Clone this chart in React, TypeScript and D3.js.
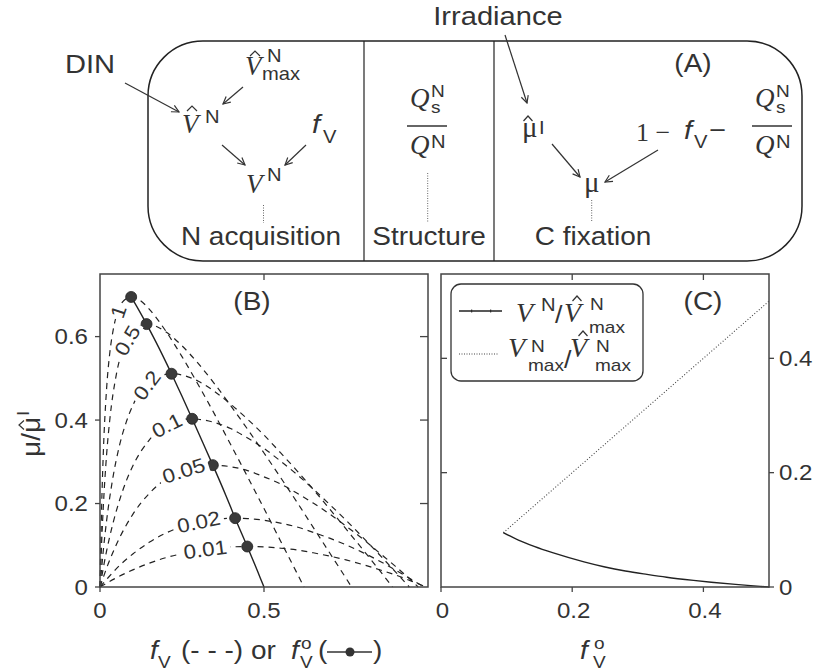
import React from 'react'
import * as d3 from 'd3'

// Panel B: growth rate (mu / mu^I) against f_V, one dashed curve per label
const curveLabels = ['1', '0.5', '0.2', '0.1', '0.05', '0.02', '0.01']

const curve1: [number, number][] = [[0, 0], [0.005, 0.192], [0.01, 0.319], [0.02, 0.474], [0.03, 0.562], [0.04, 0.615], [0.06, 0.671], [0.08, 0.691], [0.095, 0.695], [0.12, 0.688], [0.15, 0.666], [0.2, 0.614], [0.25, 0.552], [0.3, 0.484], [0.35, 0.413], [0.4, 0.339], [0.45, 0.264], [0.5, 0.188], [0.55, 0.111], [0.6, 0.034], [0.622, 0]]
const curve05: [number, number][] = [[0, 0], [0.005, 0.106], [0.01, 0.191], [0.02, 0.316], [0.03, 0.402], [0.05, 0.51], [0.075, 0.58], [0.1, 0.614], [0.142, 0.63], [0.2, 0.612], [0.25, 0.578], [0.3, 0.535], [0.35, 0.486], [0.4, 0.433], [0.45, 0.378], [0.5, 0.321], [0.55, 0.263], [0.6, 0.204], [0.65, 0.143], [0.7, 0.082], [0.75, 0.021], [0.767, 0]]
const curve02: [number, number][] = [[0, 0], [0.01, 0.087], [0.02, 0.158], [0.04, 0.265], [0.06, 0.341], [0.08, 0.395], [0.1, 0.435], [0.15, 0.491], [0.218, 0.511], [0.25, 0.508], [0.3, 0.493], [0.35, 0.468], [0.4, 0.437], [0.45, 0.402], [0.5, 0.364], [0.55, 0.322], [0.6, 0.279], [0.65, 0.234], [0.7, 0.187], [0.75, 0.139], [0.8, 0.091], [0.85, 0.042], [0.892, 0]]
const curve01: [number, number][] = [[0, 0], [0.01, 0.045], [0.02, 0.086], [0.04, 0.154], [0.06, 0.209], [0.08, 0.254], [0.1, 0.29], [0.15, 0.352], [0.2, 0.386], [0.25, 0.401], [0.281, 0.403], [0.3, 0.402], [0.35, 0.394], [0.4, 0.379], [0.45, 0.357], [0.5, 0.332], [0.55, 0.302], [0.6, 0.27], [0.65, 0.235], [0.7, 0.198], [0.75, 0.16], [0.8, 0.12], [0.85, 0.079], [0.9, 0.037], [0.943, 0]]
const curve005: [number, number][] = [[0, 0], [0.01, 0.023], [0.02, 0.045], [0.05, 0.102], [0.1, 0.174], [0.15, 0.224], [0.2, 0.258], [0.25, 0.278], [0.3, 0.289], [0.344, 0.292], [0.4, 0.288], [0.45, 0.279], [0.5, 0.264], [0.55, 0.247], [0.6, 0.225], [0.65, 0.201], [0.7, 0.175], [0.75, 0.146], [0.8, 0.116], [0.85, 0.083], [0.9, 0.05], [0.95, 0.015], [0.97, 0]]
const curve002: [number, number][] = [[0, 0], [0.02, 0.018], [0.05, 0.044], [0.1, 0.079], [0.15, 0.107], [0.2, 0.129], [0.25, 0.145], [0.3, 0.156], [0.35, 0.162], [0.412, 0.165], [0.45, 0.164], [0.5, 0.16], [0.55, 0.153], [0.6, 0.144], [0.65, 0.131], [0.7, 0.117], [0.75, 0.101], [0.8, 0.083], [0.85, 0.063], [0.9, 0.041], [0.95, 0.018], [0.988, 0]]
const curve001: [number, number][] = [[0, 0], [0.05, 0.022], [0.1, 0.041], [0.15, 0.057], [0.2, 0.07], [0.25, 0.08], [0.3, 0.088], [0.35, 0.093], [0.4, 0.096], [0.449, 0.097], [0.5, 0.096], [0.55, 0.093], [0.6, 0.089], [0.65, 0.082], [0.7, 0.074], [0.75, 0.065], [0.8, 0.054], [0.85, 0.042], [0.9, 0.029], [0.95, 0.014], [0.994, 0]]
const curves = [curve1, curve05, curve02, curve01, curve005, curve002, curve001]

// optimum f_V^o, growth at optimum, and V^N / Vmax-hat along it
const optF = [0.095, 0.118, 0.142, 0.17, 0.218, 0.25, 0.281, 0.314, 0.344, 0.385, 0.412, 0.449, 0.472, 0.488, 0.5]
const optMu = [0.695, 0.664, 0.63, 0.588, 0.511, 0.457, 0.403, 0.345, 0.292, 0.217, 0.165, 0.097, 0.054, 0.023, 0]
const optV = [0.095, 0.082, 0.071, 0.06, 0.044, 0.035, 0.028, 0.022, 0.017, 0.0115, 0.0083, 0.0045, 0.0024, 0.001, 0]

// dots at the optimum of each labelled curve
const dotF = [0.095, 0.142, 0.218, 0.281, 0.344, 0.412, 0.449]
const dotMu = [0.695, 0.63, 0.511, 0.403, 0.292, 0.165, 0.097]

// Panel C dotted: Vmax / Vmax-hat = f_V^o
const vmaxF = [0.095, 0.5]
const vmaxV = [0.095, 0.5]

const bXTicks = [0, 0.5]
const bYTicks = [0, 0.2, 0.4, 0.6]
const cXTicks = [0, 0.2, 0.4]
const cYTicks = [0, 0.2, 0.4]

// where each curve label sits (f_V along the curve)
const labelAt = [0.056, 0.083, 0.143, 0.204, 0.255, 0.301, 0.321]

const SANS = '"Liberation Sans", Arial, Helvetica, sans-serif'
const SERIF = '"Liberation Serif", "Times New Roman", serif'
const INK = '#333'
const SX = 1.12

const S = ({ x, y, size = 25, anchor = 'start', italic = false, rot = 0, children }: any) => (
  <text
    transform={`translate(${x},${y})${rot ? ` rotate(${rot})` : ''} scale(${SX},1)`}
    fontFamily={SANS} fontSize={size} fontStyle={italic ? 'italic' : 'normal'}
    textAnchor={anchor} fill={INK}>{children}</text>
)
const M = ({ x, y, size = 27, italic = true, children }: any) => (
  <text x={x} y={y} fontFamily={SERIF} fontSize={size} fontStyle={italic ? 'italic' : 'normal'} fill={INK}>{children}</text>
)
const Hat = ({ cx, y, w = 10, h = 5 }: any) => (
  <path d={`M${cx - w / 2},${y} L${cx},${y - h} L${cx + w / 2},${y}`} fill="none" stroke={INK} strokeWidth={1.2} />
)
const Arrow = ({ x1, y1, x2, y2 }: any) => (
  <line x1={x1} y1={y1} x2={x2} y2={y2} stroke={INK} strokeWidth={1.2} markerEnd="url(#ah)" />
)

const interp = (c: [number, number][], f: number) => {
  for (let i = 0; i < c.length - 1; i++) {
    if (f >= c[i][0] && f <= c[i + 1][0]) {
      const t = (f - c[i][0]) / (c[i + 1][0] - c[i][0])
      return c[i][1] + t * (c[i + 1][1] - c[i][1])
    }
  }
  return 0
}

const xB = d3.scaleLinear().domain([0, 1]).range([100, 428])
const yB = d3.scaleLinear().domain([0, 0.75]).range([587, 274])
const xC = d3.scaleLinear().domain([0, 0.5]).range([441, 769])
const yC = d3.scaleLinear().domain([0, 0.5475]).range([587, 274])

const lineB = d3.line<[number, number]>().x(d => xB(d[0])).y(d => yB(d[1])).curve(d3.curveMonotoneX)
const lineC = d3.line<[number, number]>().x(d => xC(d[0])).y(d => yC(d[1])).curve(d3.curveMonotoneX)

const PanelA = () => (
  <g>
    <rect x={148} y={41} width={654} height={220} rx={55} fill="none" stroke="#222" strokeWidth={1.5} />
    <line x1={364} y1={41} x2={364} y2={261} stroke="#222" strokeWidth={1.2} />
    <line x1={494} y1={41} x2={494} y2={261} stroke="#222" strokeWidth={1.2} />

    {/* N acquisition */}
    <S x={65} y={73} size={26}>DIN</S>
    <Arrow x1={125} y1={83} x2={179} y2={112} />
    <M x={245} y={75}>V</M>
    <Hat cx={255} y={56} />
    <S x={267} y={62} size={18}>N</S>
    <S x={262} y={80} size={18}>max</S>
    <Arrow x1={243} y1={87} x2={223} y2={104} />
    <M x={182} y={133}>V</M>
    <Hat cx={192} y={111} />
    <S x={205} y={123} size={18}>N</S>
    <S x={312} y={133} size={26} italic>f</S>
    <S x={323} y={143} size={18}>V</S>
    <Arrow x1={222} y1={145} x2={245} y2={165} />
    <Arrow x1={306} y1={145} x2={285} y2={165} />
    <M x={246} y={193}>V</M>
    <S x={267} y={181} size={18}>N</S>
    <line x1={263.5} y1={205} x2={263.5} y2={223} stroke="#666" strokeDasharray="1,1.5" />
    <S x={261} y={245} anchor="middle">N acquisition</S>

    {/* Structure */}
    <M x={410} y={107}>Q</M>
    <S x={431} y={97} size={17}>N</S>
    <S x={431} y={113} size={17}>s</S>
    <line x1={407} y1={126} x2={447} y2={126} stroke={INK} strokeWidth={1.3} />
    <M x={410} y={154}>Q</M>
    <S x={431} y={148} size={18}>N</S>
    <line x1={427.7} y1={173} x2={427.7} y2={222} stroke="#666" strokeDasharray="1,1.5" />
    <S x={429} y={245} anchor="middle">Structure</S>

    {/* C fixation */}
    <S x={498} y={25} size={26} anchor="middle">Irradiance</S>
    <Arrow x1={505} y1={35} x2={527} y2={103} />
    <M x={522} y={137} size={29} italic={false}>μ</M>
    <Hat cx={528} y={121} w={9} />
    <S x={539} y={134} size={18}>I</S>
    <M x={636} y={141} size={26} italic={false}>1 −</M>
    <S x={684} y={139} size={26} italic>f</S>
    <S x={694} y={148} size={18}>V</S>
    <S x={709} y={139} size={26}>−</S>
    <M x={755} y={107}>Q</M>
    <S x={776} y={97} size={17}>N</S>
    <S x={776} y={113} size={17}>s</S>
    <line x1={752} y1={126} x2={792} y2={126} stroke={INK} strokeWidth={1.3} />
    <M x={755} y={154}>Q</M>
    <S x={776} y={148} size={18}>N</S>
    <Arrow x1={552} y1={144} x2={580} y2={177} />
    <Arrow x1={658} y1={150} x2={605} y2={182} />
    <M x={584} y={192} size={29} italic={false}>μ</M>
    <line x1={591.7} y1={200} x2={591.7} y2={222} stroke="#666" strokeDasharray="1,1.5" />
    <S x={593} y={245} anchor="middle">C fixation</S>
    <S x={693} y={72} anchor="middle">(A)</S>
  </g>
)

const PanelB = () => (
  <g>
    {curves.map((c, i) => (
      <path key={i} d={lineB(c) || ''} fill="none" stroke="#222" strokeWidth={1.2} strokeDasharray="6,5" />
    ))}
    <path d={lineB(optF.map((f, i) => [f, optMu[i]] as [number, number])) || ''} fill="none" stroke="#222" strokeWidth={1.4} />
    {dotF.map((f, i) => (
      <circle key={i} cx={xB(f)} cy={yB(dotMu[i])} r={5.5} fill="#3a3a3a" stroke="#222" strokeWidth={0.8} />
    ))}
    {curveLabels.map((lab, i) => {
      const f = labelAt[i]
      const c = curves[i]
      const x = xB(f), y = yB(interp(c, f))
      const dx = xB(f + 0.008) - xB(f - 0.008)
      const dy = yB(interp(c, f + 0.008)) - yB(interp(c, f - 0.008))
      const ang = (Math.atan2(dy, dx) * 180) / Math.PI
      const w = lab.length * 0.52 * 20 * SX + 4
      return (
        <g key={lab} transform={`translate(${x},${y}) rotate(${ang})`}>
          <rect x={-w / 2} y={-7.5} width={w} height={15} fill="#fff" />
          <text transform={`scale(${SX},1)`} fontFamily={SANS} fontSize={20} textAnchor="middle" dominantBaseline="central" fill={INK}>{lab}</text>
        </g>
      )
    })}
    <rect x={100} y={274} width={328} height={313} fill="none" stroke="#444" strokeWidth={1.5} />
    {bYTicks.map(v => (
      <g key={v}>
        <line x1={95} x2={100} y1={yB(v)} y2={yB(v)} stroke="#444" strokeWidth={1.3} />
        {v > 0 && <line x1={420} x2={428} y1={yB(v)} y2={yB(v)} stroke="#444" strokeWidth={1.3} />}
        <S x={88} y={yB(v) + 7.5} size={21.5} anchor="end">{String(v)}</S>
      </g>
    ))}
    {bXTicks.map(v => (
      <g key={v}>
        <line x1={xB(v)} x2={xB(v)} y1={587} y2={592} stroke="#444" strokeWidth={1.3} />
        {v > 0 && <line x1={xB(v)} x2={xB(v)} y1={274} y2={280} stroke="#444" strokeWidth={1.3} />}
        <S x={xB(v)} y={618} size={21.5} anchor="middle">{String(v)}</S>
      </g>
    ))}
    <S x={252} y={310} anchor="middle">(B)</S>

    {/* y label */}
    <g transform="translate(40,457) rotate(-90)">
      <S x={0} y={0}>μ/μ</S>
      <Hat cx={32} y={-16} w={9} />
      <S x={41} y={-11} size={17}>I</S>
    </g>
    {/* x label */}
    <S x={150} y={659} italic>f</S>
    <S x={158} y={668} size={17}>V</S>
    <S x={181} y={659}>(- - -) or</S>
    <S x={291} y={659} italic>f</S>
    <S x={301} y={649} size={17}>o</S>
    <S x={300} y={668} size={17}>V</S>
    <S x={318} y={659}>(</S>
    <line x1={327} x2={372} y1={652} y2={652} stroke={INK} strokeWidth={1.4} />
    <circle cx={350} cy={652} r={4.5} fill={INK} />
    <S x={373} y={659}>)</S>
  </g>
)

const PanelC = () => (
  <g>
    <path d={lineC(vmaxF.map((f, i) => [f, vmaxV[i]] as [number, number])) || ''} fill="none" stroke="#444" strokeWidth={1.1} strokeDasharray="1,2" />
    <path d={lineC(optF.map((f, i) => [f, optV[i]] as [number, number])) || ''} fill="none" stroke="#222" strokeWidth={1.4} />
    <rect x={441} y={274} width={328} height={313} fill="none" stroke="#444" strokeWidth={1.5} />
    {cYTicks.map(v => (
      <g key={v}>
        <line x1={769} x2={774} y1={yC(v)} y2={yC(v)} stroke="#444" strokeWidth={1.3} />
        {v > 0 && <line x1={441} x2={447} y1={yC(v)} y2={yC(v)} stroke="#444" strokeWidth={1.3} />}
        <S x={779} y={yC(v) + 7.5} size={21.5}>{String(v)}</S>
      </g>
    ))}
    {cXTicks.map(v => (
      <g key={v}>
        <line x1={xC(v)} x2={xC(v)} y1={587} y2={592} stroke="#444" strokeWidth={1.3} />
        {v > 0 && <line x1={xC(v)} x2={xC(v)} y1={274} y2={280} stroke="#444" strokeWidth={1.3} />}
        <S x={xC(v) + 1.5} y={618} size={21.5} anchor="middle">{String(v)}</S>
      </g>
    ))}
    <S x={703} y={310} anchor="middle">(C)</S>

    {/* legend */}
    <rect x={451} y={284} width={192} height={97} rx={10} fill="#fff" stroke="#333" strokeWidth={1.3} />
    <line x1={459} x2={502} y1={311} y2={311} stroke="#222" strokeWidth={1.4} />
    <line x1={471.7} x2={471.7} y1={309.5} y2={312.5} stroke="#222" strokeWidth={1} />
    <line x1={490.7} x2={490.7} y1={309.5} y2={312.5} stroke="#222" strokeWidth={1} />
    <M x={516} y={322} size={28}>V</M>
    <S x={541} y={311} size={18}>N</S>
    <S x={555} y={323} size={24}>/</S>
    <M x={564} y={322} size={28}>V</M>
    <Hat cx={577} y={301} w={9} />
    <S x={590} y={310} size={17}>N</S>
    <S x={589} y={333} size={17}>max</S>

    <line x1={459} x2={498} y1={354} y2={354} stroke="#444" strokeWidth={1.1} strokeDasharray="1,1.5" />
    <M x={508} y={357} size={28}>V</M>
    <S x={531} y={352} size={17}>N</S>
    <S x={528} y={371} size={17}>max</S>
    <S x={564} y={368} size={24}>/</S>
    <M x={570} y={357} size={28}>V</M>
    <Hat cx={583} y={336} w={9} />
    <S x={596} y={352} size={17}>N</S>
    <S x={595} y={371} size={17}>max</S>

    {/* x label */}
    <S x={580} y={659} italic>f</S>
    <S x={594} y={649} size={17}>o</S>
    <S x={593} y={668} size={17}>V</S>
  </g>
)

export default function App() {
  return (
    <svg width={815} height={671} style={{ position: 'absolute', left: 0, top: 0, background: '#fff' }}>
      <defs>
        <marker id="ah" viewBox="0 0 10 10" refX={9} refY={5} markerWidth={9} markerHeight={9} markerUnits="userSpaceOnUse" orient="auto">
          <path d="M1,1 L9,5 L1,9" fill="none" stroke={INK} strokeWidth={1.3} />
        </marker>
      </defs>
      <PanelA />
      <PanelB />
      <PanelC />
    </svg>
  )
}
